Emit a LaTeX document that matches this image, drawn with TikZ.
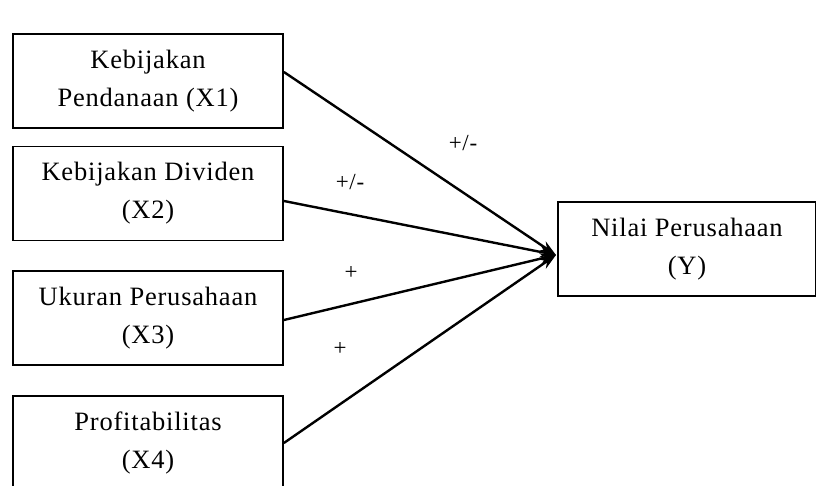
\documentclass[tikz,border=0pt]{standalone}
\usepackage{fontspec}
\setmainfont{Liberation Serif}[LetterSpace=3]
\usetikzlibrary{arrows.meta}
\begin{document}
\begin{tikzpicture}[x=1pt,y=-1pt,
  box/.style={draw,line width=1.8pt,minimum width=270pt,minimum height=94pt,align=center,
    font=\fontsize{26.5}{38}\selectfont,inner sep=0pt},
  link/.style={line width=2.4pt,-{Stealth[length=16pt,width=11pt]}},
  lab/.style={font=\fontsize{23}{26}\selectfont,inner sep=0pt}]
\useasboundingbox (0,0) rectangle (816,486);
\node[box] (x1) at (148,81) {Kebijakan\\Pendanaan (X1)};
\node[box] (x2) at (148,193.5) {Kebijakan Dividen\\(X2)};
\node[box] (x3) at (148,318) {Ukuran Perusahaan\\(X3)};
\node[box] (x4) at (148,443) {Profitabilitas\\(X4)};
\node[box,minimum width=258pt] (y) at (687,249) {Nilai Perusahaan\\(Y)};
\coordinate (tip) at (556,255);
\draw[link] (x1.east |- 0,72) -- (tip);
\draw[link] (x2.east |- 0,201) -- (tip);
\draw[link] (x3.east |- 0,320) -- (tip);
\draw[link] (x4.east |- 0,443) -- (tip);
\node[lab] (l1) at (463,143) {+/-};
\node[lab] (l2) at (350,182) {+/-};
\node[lab] (l3) at (351,273) {+};
\node[lab] (l4) at (340,349) {+};
\end{tikzpicture}
\end{document}
